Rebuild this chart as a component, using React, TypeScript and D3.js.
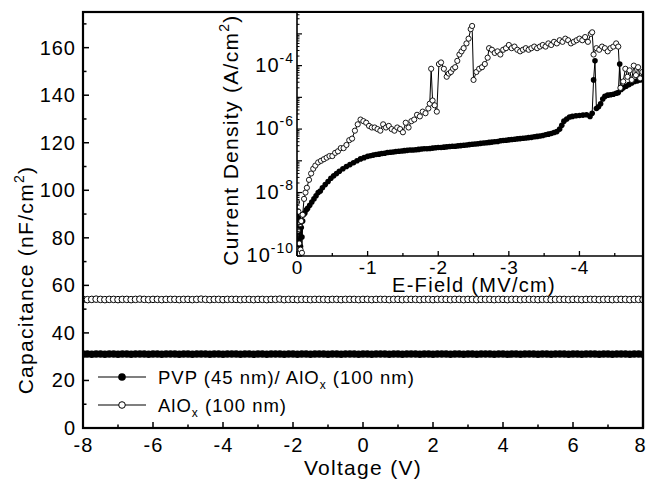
import React from "react";
import * as d3 from "d3";

// ---------- main plot data ----------
const voltage = [
  -8, -7.875, -7.75, -7.625, -7.5, -7.375, -7.25, -7.125,
  -7, -6.875, -6.75, -6.625, -6.5, -6.375, -6.25, -6.125,
  -6, -5.875, -5.75, -5.625, -5.5, -5.375, -5.25, -5.125,
  -5, -4.875, -4.75, -4.625, -4.5, -4.375, -4.25, -4.125,
  -4, -3.875, -3.75, -3.625, -3.5, -3.375, -3.25, -3.125,
  -3, -2.875, -2.75, -2.625, -2.5, -2.375, -2.25, -2.125,
  -2, -1.875, -1.75, -1.625, -1.5, -1.375, -1.25, -1.125,
  -1, -0.875, -0.75, -0.625, -0.5, -0.375, -0.25, -0.125,
  0, 0.125, 0.25, 0.375, 0.5, 0.625, 0.75, 0.875,
  1, 1.125, 1.25, 1.375, 1.5, 1.625, 1.75, 1.875,
  2, 2.125, 2.25, 2.375, 2.5, 2.625, 2.75, 2.875,
  3, 3.125, 3.25, 3.375, 3.5, 3.625, 3.75, 3.875,
  4, 4.125, 4.25, 4.375, 4.5, 4.625, 4.75, 4.875,
  5, 5.125, 5.25, 5.375, 5.5, 5.625, 5.75, 5.875,
  6, 6.125, 6.25, 6.375, 6.5, 6.625, 6.75, 6.875,
  7, 7.125, 7.25, 7.375, 7.5, 7.625, 7.75, 7.875,
  8,
];

const capPVP = [
  31.1, 31.1, 31.0, 31.1, 31.1, 31.0, 31.1, 31.1,
  31.0, 31.1, 31.1, 31.0, 31.1, 31.1, 31.1, 31.0,
  31.1, 31.1, 31.0, 31.1, 31.1, 31.1, 31.0, 31.1,
  31.1, 31.0, 31.1, 31.1, 31.1, 31.0, 31.1, 31.1,
  31.0, 31.1, 31.1, 31.1, 31.0, 31.1, 31.1, 31.0,
  31.1, 31.1, 31.0, 31.1, 31.1, 31.1, 31.0, 31.1,
  31.1, 31.0, 31.1, 31.1, 31.0, 31.1, 31.1, 31.1,
  31.0, 31.1, 31.1, 31.0, 31.1, 31.1, 31.1, 31.0,
  31.1, 31.1, 31.0, 31.1, 31.1, 31.1, 31.0, 31.1,
  31.1, 31.0, 31.1, 31.1, 31.1, 31.0, 31.1, 31.1,
  31.0, 31.1, 31.1, 31.1, 31.0, 31.1, 31.1, 31.0,
  31.1, 31.1, 31.0, 31.1, 31.1, 31.1, 31.0, 31.1,
  31.1, 31.0, 31.1, 31.1, 31.0, 31.1, 31.1, 31.1,
  31.0, 31.1, 31.1, 31.0, 31.1, 31.1, 31.1, 31.0,
  31.1, 31.1, 31.0, 31.1, 31.1, 31.1, 31.0, 31.1,
  31.1, 31.0, 31.1, 31.1, 31.1, 31.0, 31.1, 31.1,
  31.0,
];

const capAlOx = [
  54.1, 54.0, 54.1, 54.2, 54.1, 54.0, 54.1, 54.1,
  54.0, 54.1, 54.1, 54.0, 54.1, 54.2, 54.1, 54.0,
  54.1, 54.1, 54.0, 54.1, 54.1, 54.1, 54.0, 54.1,
  54.1, 54.0, 54.1, 54.2, 54.1, 54.0, 54.1, 54.1,
  54.0, 54.1, 54.1, 54.1, 54.0, 54.1, 54.1, 54.0,
  54.1, 54.1, 54.0, 54.1, 54.1, 54.2, 54.0, 54.1,
  54.1, 54.0, 54.1, 54.1, 54.0, 54.1, 54.1, 54.1,
  54.0, 54.1, 54.1, 54.0, 54.1, 54.1, 54.1, 54.0,
  54.1, 54.1, 54.0, 54.1, 54.1, 54.1, 54.0, 54.1,
  54.1, 54.0, 54.1, 54.1, 54.1, 54.0, 54.1, 54.1,
  54.0, 54.1, 54.1, 54.1, 54.0, 54.1, 54.1, 54.0,
  54.1, 54.1, 54.0, 54.1, 54.1, 54.1, 54.0, 54.1,
  54.1, 54.0, 54.1, 54.1, 54.0, 54.1, 54.1, 54.1,
  54.0, 54.1, 54.1, 54.0, 54.1, 54.1, 54.1, 54.0,
  54.1, 54.1, 54.0, 54.1, 54.1, 54.1, 54.0, 54.1,
  54.1, 54.0, 54.1, 54.1, 54.1, 54.0, 54.1, 54.1,
  54.0,
];

const mainXTicks = [-8, -6, -4, -2, 0, 2, 4, 6, 8];
const mainXMinor = [-7, -5, -3, -1, 1, 3, 5, 7];
const mainYTicks = [0, 20, 40, 60, 80, 100, 120, 140, 160];
const mainYMinor = [10, 30, 50, 70, 90, 110, 130, 150, 170];

// ---------- inset data (E-field, log10 current density) ----------
const fieldAlOx = [
  0, -0.01, -0.02, -0.03, -0.04, -0.05, -0.06, -0.07, -0.08, -0.1,
  -0.12, -0.14, -0.17, -0.2, -0.23, -0.26, -0.3, -0.34, -0.38, -0.42,
  -0.46, -0.5, -0.54, -0.58, -0.62, -0.66, -0.7, -0.74, -0.78, -0.82,
  -0.86, -0.9, -0.94, -0.98, -1.02, -1.06, -1.1, -1.14, -1.18, -1.22,
  -1.26, -1.3, -1.34, -1.38, -1.42, -1.46, -1.5, -1.54, -1.58, -1.62,
  -1.66, -1.7, -1.74, -1.78, -1.82, -1.86, -1.88, -1.9, -1.92, -1.95,
  -1.98, -2.01, -2.04, -2.08, -2.12, -2.15, -2.18, -2.21, -2.24, -2.27,
  -2.3, -2.33, -2.36, -2.4, -2.43, -2.46, -2.48, -2.5, -2.54, -2.58,
  -2.62, -2.66, -2.7, -2.72, -2.76, -2.8, -2.84, -2.88, -2.92, -2.96,
  -3, -3.04, -3.08, -3.12, -3.16, -3.2, -3.24, -3.28, -3.32, -3.36,
  -3.4, -3.44, -3.48, -3.52, -3.56, -3.6, -3.64, -3.68, -3.72, -3.76,
  -3.8, -3.84, -3.88, -3.92, -3.96, -4, -4.04, -4.08, -4.12, -4.16,
  -4.18, -4.2, -4.24, -4.28, -4.32, -4.36, -4.4, -4.44, -4.48, -4.52,
  -4.55, -4.58, -4.62, -4.65, -4.68, -4.71, -4.74, -4.77, -4.8, -4.83,
  -4.86, -4.89,
];
const logJAlOx = [
  -8.3, -9.2, -8.6, -9.6, -9.0, -9.8, -8.9, -9.9, -8.7, -8.2,
  -8.0, -7.85, -7.6, -7.4, -7.25, -7.15, -7.05, -7.0, -6.95, -6.9,
  -6.85, -6.85, -6.75, -6.7, -6.6, -6.6, -6.5, -6.35, -6.3, -6.05,
  -5.85, -5.7, -5.75, -5.8, -5.9, -5.95, -5.95, -6.0, -6.05, -5.85,
  -5.95, -5.9, -6.0, -6.05, -5.95, -6.0, -6.1, -5.8, -5.95, -5.75,
  -5.7, -5.55, -5.6, -5.45, -5.5, -5.35, -5.2, -4.1, -5.1, -5.25,
  -5.45, -3.95, -3.9, -4.1, -4.35, -4.25, -4.2, -4.1, -4.05, -3.85,
  -3.65, -3.55, -3.45, -3.3, -3.15, -2.85, -2.75, -4.45, -4.2, -4.1,
  -4.05, -3.95, -3.75, -3.45, -3.5, -3.6, -3.55, -3.65, -3.5, -3.45,
  -3.35, -3.45, -3.4, -3.5, -3.55, -3.5, -3.45, -3.5, -3.45, -3.4,
  -3.45, -3.4, -3.35, -3.4, -3.3, -3.35, -3.25, -3.3, -3.2, -3.25,
  -3.15, -3.2, -3.3, -3.25, -3.2, -3.15, -3.2, -3.1, -3.25, -3.0,
  -2.95, -3.65, -3.45, -3.5, -3.4, -3.45, -3.55, -3.45, -3.4, -3.3,
  -3.4, -4.7, -4.5, -4.1, -4.35, -4.15, -4.45, -4.0, -4.3, -4.05,
  -4.4, -4.2,
];

const fieldPVP = [
  0, -0.01, -0.02, -0.03, -0.04, -0.05, -0.06, -0.07, -0.08, -0.09,
  -0.11, -0.13, -0.15, -0.18, -0.21, -0.24, -0.27, -0.3, -0.33, -0.36,
  -0.4, -0.44, -0.48, -0.52, -0.56, -0.6, -0.65, -0.7, -0.75, -0.8,
  -0.85, -0.9, -0.95, -1, -1.04, -1.08, -1.12, -1.16, -1.2, -1.24,
  -1.28, -1.32, -1.36, -1.4, -1.44, -1.48, -1.52, -1.56, -1.6, -1.64,
  -1.68, -1.72, -1.76, -1.8, -1.84, -1.88, -1.92, -1.96, -2, -2.04,
  -2.08, -2.12, -2.16, -2.2, -2.24, -2.28, -2.32, -2.36, -2.4, -2.44,
  -2.48, -2.52, -2.56, -2.6, -2.64, -2.68, -2.72, -2.76, -2.8, -2.84,
  -2.88, -2.92, -2.96, -3, -3.04, -3.08, -3.12, -3.16, -3.2, -3.24,
  -3.28, -3.32, -3.36, -3.4, -3.44, -3.48, -3.52, -3.56, -3.6, -3.64,
  -3.68, -3.72, -3.75, -3.78, -3.82, -3.86, -3.9, -3.95, -4, -4.05,
  -4.1, -4.15, -4.18, -4.2, -4.22, -4.24, -4.27, -4.3, -4.33, -4.36,
  -4.4, -4.44, -4.48, -4.52, -4.55, -4.57, -4.59, -4.62, -4.66, -4.7,
  -4.74, -4.78, -4.82, -4.86, -4.89,
];
const logJPVP = [
  -9.0, -9.5, -8.8, -9.6, -9.2, -9.7, -9.1, -9.4, -8.9, -8.7,
  -8.65, -8.55, -8.5, -8.4, -8.3, -8.2, -8.1, -8.0, -7.95, -7.85,
  -7.75, -7.65, -7.55, -7.47, -7.4, -7.33, -7.25, -7.18, -7.12, -7.06,
  -7.0, -6.94, -6.9, -6.86, -6.84, -6.82, -6.8, -6.79, -6.77, -6.76,
  -6.74, -6.73, -6.72, -6.71, -6.7, -6.69, -6.68, -6.67, -6.66, -6.66,
  -6.65, -6.64, -6.63, -6.62, -6.62, -6.61, -6.6, -6.59, -6.58, -6.58,
  -6.57, -6.56, -6.55, -6.54, -6.54, -6.53, -6.52, -6.51, -6.5, -6.49,
  -6.48, -6.47, -6.46, -6.45, -6.44, -6.43, -6.42, -6.41, -6.4, -6.39,
  -6.37, -6.36, -6.35, -6.34, -6.33, -6.32, -6.31, -6.3, -6.29, -6.28,
  -6.27, -6.26, -6.24, -6.23, -6.22, -6.2, -6.18, -6.16, -6.14, -6.11,
  -6.08, -6.0, -5.88, -5.75, -5.68, -5.62, -5.6, -5.58, -5.57, -5.56,
  -5.55, -5.6, -5.5, -4.45, -3.85, -5.35, -5.3, -5.2, -5.05, -4.97,
  -4.93, -4.92, -4.9, -4.87, -4.85, -3.95, -4.75, -4.7, -4.65, -4.6,
  -4.55, -4.5, -4.48, -4.45, -4.4,
];

const insetXTicks = [0, -1, -2, -3, -4];
const insetXMinor = [-0.5, -1.5, -2.5, -3.5, -4.5];
const insetYLabelExp = [-10, -8, -6, -4];
const insetYDecades = [-10, -9, -8, -7, -6, -5, -4, -3];
const insetYMinorMult = [2, 3, 4, 5, 6, 7, 8, 9];

const FONT = "'Liberation Sans', Arial, Helvetica, sans-serif";

export default function App() {
  const W = 648, H = 479;
  const L = 83, R = 643, T = 12, B = 428;
  const x = d3.scaleLinear().domain([-8, 8]).range([L, R]);
  const y = d3.scaleLinear().domain([0, 175]).range([B, T]);

  const IL = 297, IB = 256;
  const ix = d3.scaleLinear().domain([0, -4.9]).range([IL, R]);
  const iy = d3.scaleLog().domain([1e-10, Math.pow(10, -2.31)]).range([IB, T]);

  const mainLine = d3.line<[number, number]>().x(d => x(d[0])).y(d => y(d[1]));
  const pvp: [number, number][] = voltage.map((v, i) => [v, capPVP[i]]);
  const alox: [number, number][] = voltage.map((v, i) => [v, capAlOx[i]]);

  const insetLine = d3.line<[number, number]>().x(d => ix(d[0])).y(d => iy(Math.pow(10, d[1])));
  const iAlox: [number, number][] = fieldAlOx.map((e, i) => [e, logJAlOx[i]]);
  const iPvp: [number, number][] = fieldPVP.map((e, i) => [e, logJPVP[i]]);

  const tickFs = 20;
  const tickLs = 1;
  const titleFs = 21;
  const titleLs = 1.3;

  const minorLog: number[] = [];
  insetYDecades.forEach(d => insetYMinorMult.forEach(m => {
    const v = m * Math.pow(10, d);
    if (v < Math.pow(10, -2.31)) minorLog.push(v);
  }));

  return (
    <svg width={W} height={H} style={{ position: "absolute", left: 0, top: 0, background: "#fff" }}
      fontFamily={FONT}>
      <defs>
        <clipPath id="insetClip">
          <rect x={IL} y={T} width={R - IL} height={IB - T} />
        </clipPath>
        <clipPath id="mainClip">
          <rect x={L} y={T} width={R - L} height={B - T} />
        </clipPath>
      </defs>
      <rect x={0} y={0} width={W} height={H} fill="#fff" />

      {/* main data */}
      <g clipPath="url(#mainClip)">
        <path d={mainLine(alox) || ""} fill="none" stroke="#000" strokeWidth={1} />
        {alox.map((d, i) => (
          <circle key={"a" + i} cx={x(d[0])} cy={y(d[1])} r={3.3} fill="#fff" stroke="#000" strokeWidth={1} />
        ))}
        <path d={mainLine(pvp) || ""} fill="none" stroke="#000" strokeWidth={1} />
        {pvp.map((d, i) => (
          <circle key={"p" + i} cx={x(d[0])} cy={y(d[1])} r={3.8} fill="#000" />
        ))}
      </g>

      {/* main ticks */}
      {mainXTicks.map(t => (
        <g key={"mx" + t}>
          <line x1={x(t)} x2={x(t)} y1={B} y2={B - 6} stroke="#000" strokeWidth={1.5} />
          <text x={t === 8 ? x(t) - 3 : x(t) + tickLs / 2} y={B + 24} textAnchor="middle" fontSize={tickFs} letterSpacing={t === 8 ? 0 : tickLs}>{t}</text>
        </g>
      ))}
      {mainXMinor.map(t => (
        <line key={"mxm" + t} x1={x(t)} x2={x(t)} y1={B} y2={B - 3.5} stroke="#000" strokeWidth={1.5} />
      ))}
      {mainYTicks.map(t => (
        <g key={"my" + t}>
          <line x1={L} x2={L + 6} y1={y(t)} y2={y(t)} stroke="#000" strokeWidth={1.5} />
          <text x={L - 7} y={y(t) + 7} textAnchor="end" fontSize={tickFs} letterSpacing={tickLs}>{t}</text>
        </g>
      ))}
      {mainYMinor.map(t => (
        <line key={"mym" + t} x1={L} x2={L + 3.5} y1={y(t)} y2={y(t)} stroke="#000" strokeWidth={1.5} />
      ))}

      {/* main frame */}
      <rect x={L} y={T} width={R - L} height={B - T} fill="none" stroke="#000" strokeWidth={2.2} />

      {/* main axis titles */}
      <text x={(L + R) / 2} y={B + 47} textAnchor="middle" fontSize={titleFs} letterSpacing={titleLs}>Voltage (V)</text>
      <text transform={`translate(33,280) rotate(-90)`} textAnchor="middle" fontSize={titleFs} letterSpacing={titleLs}>
        Capacitance (nF/cm<tspan dy={-9} fontSize={14}>2</tspan><tspan dy={9}>)</tspan>
      </text>

      {/* legend */}
      <g>
        <line x1={98} x2={146} y1={377} y2={377} stroke="#000" strokeWidth={1.2} />
        <circle cx={122} cy={377} r={3.8} fill="#000" />
        <text x={158} y={384} fontSize={18.5} letterSpacing={1}>
          PVP (45 nm)/ AlO<tspan dy={5} fontSize={12}>x</tspan><tspan dy={-5}> (100 nm)</tspan>
        </text>
        <line x1={98} x2={146} y1={405} y2={405} stroke="#000" strokeWidth={1.2} />
        <circle cx={122} cy={405} r={3.3} fill="#fff" stroke="#000" strokeWidth={1} />
        <text x={158} y={412} fontSize={18.5} letterSpacing={1}>
          AlO<tspan dy={5} fontSize={12}>x</tspan><tspan dy={-5}> (100 nm)</tspan>
        </text>
      </g>

      {/* inset */}
      <rect x={IL} y={T} width={R - IL} height={IB - T} fill="#fff" />
      <g clipPath="url(#insetClip)">
        <path d={insetLine(iPvp) || ""} fill="none" stroke="#000" strokeWidth={1} />
        {iPvp.map((d, i) => (
          <circle key={"ip" + i} cx={ix(d[0])} cy={iy(Math.pow(10, d[1]))} r={2.8} fill="#000" />
        ))}
        <path d={insetLine(iAlox) || ""} fill="none" stroke="#000" strokeWidth={1} />
        {iAlox.map((d, i) => (
          <circle key={"ia" + i} cx={ix(d[0])} cy={iy(Math.pow(10, d[1]))} r={2.6} fill="#fff" stroke="#000" strokeWidth={0.9} />
        ))}
      </g>
      {/* inset axes */}
      <line x1={IL} x2={IL} y1={T} y2={IB} stroke="#000" strokeWidth={1.6} />
      <line x1={IL} x2={R} y1={IB} y2={IB} stroke="#000" strokeWidth={1.6} />
      {insetXTicks.map(t => (
        <g key={"ix" + t}>
          <line x1={ix(t)} x2={ix(t)} y1={IB} y2={IB - 5} stroke="#000" strokeWidth={1.3} />
          <text x={ix(t) + tickLs / 2} y={IB + 18} textAnchor="middle" fontSize={tickFs - 1} letterSpacing={tickLs}>{t}</text>
        </g>
      ))}
      {insetXMinor.map(t => (
        <line key={"ixm" + t} x1={ix(t)} x2={ix(t)} y1={IB} y2={IB - 3} stroke="#000" strokeWidth={1.3} />
      ))}
      {insetYDecades.map(d => (
        <line key={"iyd" + d} x1={IL} x2={IL + 5} y1={iy(Math.pow(10, d))} y2={iy(Math.pow(10, d))} stroke="#000" strokeWidth={1.2} />
      ))}
      {minorLog.map((v, i) => (
        <line key={"iym" + i} x1={IL} x2={IL + 2.5} y1={iy(v)} y2={iy(v)} stroke="#000" strokeWidth={1} />
      ))}
      {insetYLabelExp.map(e => (
        <text key={"iyl" + e} x={IL - 3} y={iy(Math.pow(10, e)) + 6} textAnchor="end" fontSize={tickFs} letterSpacing={tickLs}>
          10<tspan dy={-9} fontSize={14}>{e}</tspan>
        </text>
      ))}
      <text x={(IL + R) / 2 + 4} y={IB + 36} textAnchor="middle" fontSize={titleFs - 1} letterSpacing={titleLs}>E-Field (MV/cm)</text>
      <text transform={`translate(238,140) rotate(-90)`} textAnchor="middle" fontSize={titleFs} letterSpacing={titleLs}>
        Current Density (A/cm<tspan dy={-9} fontSize={14}>2</tspan><tspan dy={9}>)</tspan>
      </text>
      {/* main frame top/right over inset */}
      <line x1={L} x2={R} y1={T} y2={T} stroke="#000" strokeWidth={2.2} />
      <line x1={R} x2={R} y1={T} y2={B} stroke="#000" strokeWidth={2.2} />
    </svg>
  );
}
